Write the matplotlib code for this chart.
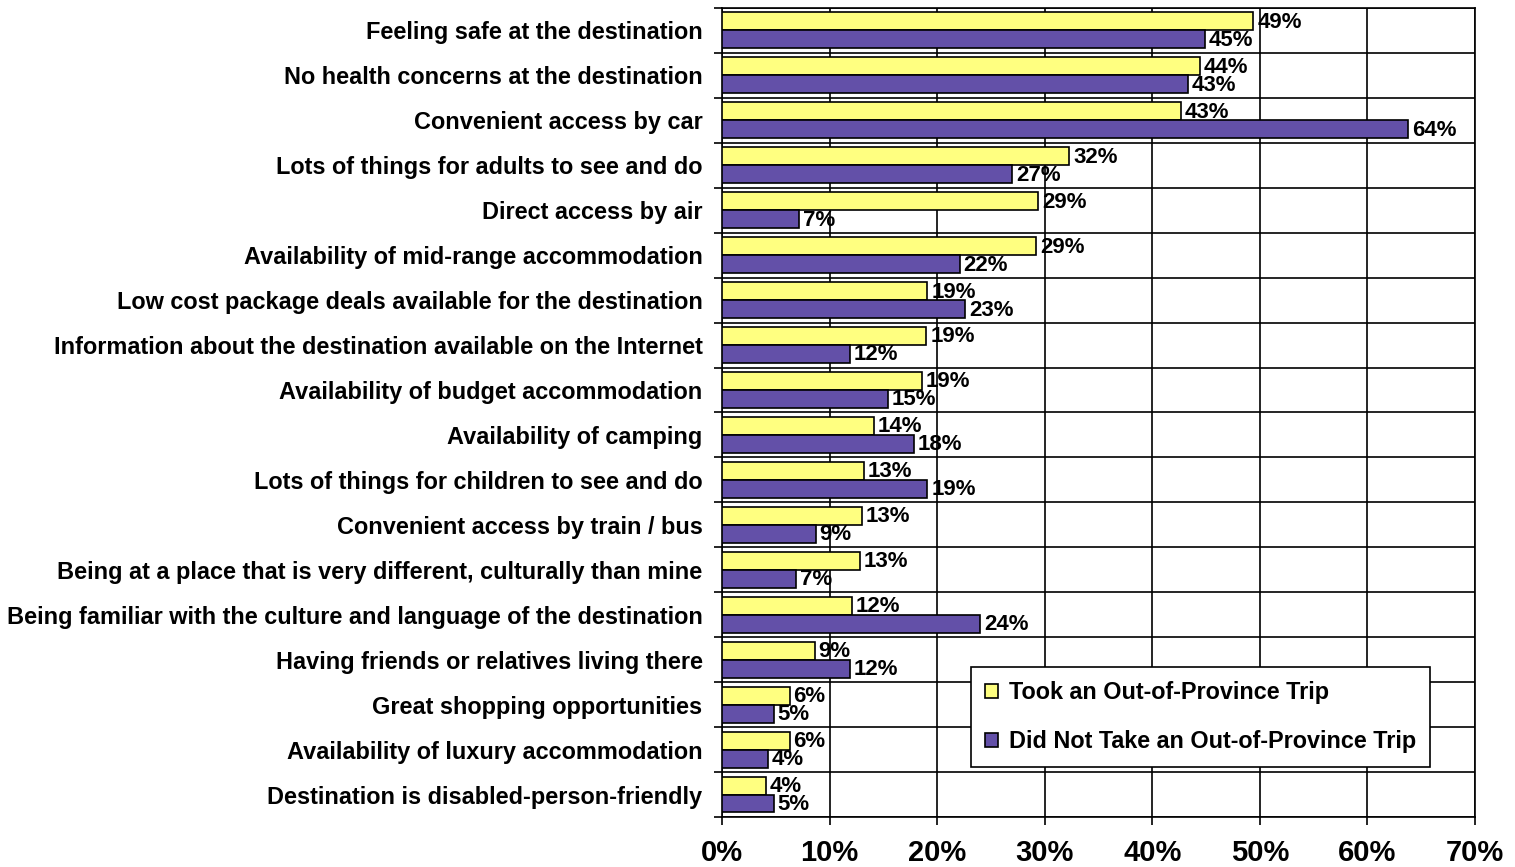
import matplotlib.pyplot as plt
import numpy as np
from matplotlib.ticker import FixedLocator, FuncFormatter

plt.rcParams['font.family'] = ['Liberation Sans', 'DejaVu Sans']
plt.rcParams['font.weight'] = 'bold'

categories = [
    "Feeling safe at the destination",
    "No health concerns at the destination",
    "Convenient access by car",
    "Lots of things for adults to see and do",
    "Direct access by air",
    "Availability of mid-range accommodation",
    "Low cost package deals available for the destination",
    "Information about the destination available on the Internet",
    "Availability of budget accommodation",
    "Availability of camping",
    "Lots of things for children to see and do",
    "Convenient access by train / bus",
    "Being at a place that is very different, culturally than mine",
    "Being familiar with the culture and language of the destination",
    "Having friends or relatives living there",
    "Great shopping opportunities",
    "Availability of luxury accommodation",
    "Destination is disabled-person-friendly",
]
took_trip = [49.4, 44.4, 42.7, 32.3, 29.4, 29.2, 19.1, 19.0, 18.6, 14.1,
             13.2, 13.0, 12.8, 12.1, 8.6, 6.3, 6.3, 4.1]
no_trip = [44.9, 43.3, 63.8, 27.0, 7.2, 22.1, 22.6, 11.9, 15.4, 17.8,
           19.1, 8.7, 6.9, 24.0, 11.9, 4.8, 4.3, 4.8]
series_names = ["Took an Out-of-Province Trip", "Did Not Take an Out-of-Province Trip"]

yellow = '#FFFF80'
purple = '#6350A8'

fig = plt.figure(figsize=(15.15, 8.67), dpi=100)
ax = fig.add_axes([0.4766, 0.0577, 0.4970, 0.9331])

n = len(categories)
y = np.arange(n)
h = 0.4

ax.barh(y - h / 2, took_trip, height=h, color=yellow, edgecolor='black',
        linewidth=1.2, label=series_names[0], zorder=3)
ax.barh(y + h / 2, no_trip, height=h, color=purple, edgecolor='black',
        linewidth=1.2, label=series_names[1], zorder=3)

# value labels, Excel style (they overlap a bit)
for i in range(n):
    ax.text(took_trip[i] + 0.35, y[i] - h / 2 + 0.02, f"{round(took_trip[i])}%",
            ha='left', va='center', fontsize=16, fontweight='bold', zorder=4)
    ax.text(no_trip[i] + 0.35, y[i] + h / 2 + 0.02, f"{round(no_trip[i])}%",
            ha='left', va='center', fontsize=16, fontweight='bold', zorder=4)

ax.set_xlim(0, 70)
ax.set_ylim(n - 0.5, -0.5)

ax.set_xticks(np.arange(0, 71, 10))
ax.xaxis.set_major_formatter(FuncFormatter(lambda v, p: f"{int(v)}%"))
ax.tick_params(axis='x', labelsize=21, length=6, width=1.2, pad=10)
ax.grid(axis='x', color='black', linewidth=1.2, zorder=1)

ax.set_yticks(y)
ax.set_yticklabels(categories, fontsize=16.9, fontweight='bold')
ax.tick_params(axis='y', which='major', length=0, pad=14)
ax.yaxis.set_minor_locator(FixedLocator(np.arange(-0.5, n, 1)))
ax.tick_params(axis='y', which='minor', length=6, width=1.2)
ax.grid(axis='y', which='minor', color='black', linewidth=1.2, zorder=1)

for lab in ax.get_xticklabels():
    lab.set_fontweight('bold')

for s in ax.spines.values():
    s.set_linewidth(1.2)
    s.set_color('black')

leg = ax.legend(loc='lower right', bbox_to_anchor=(0.94, 0.062), fontsize=16.8,
                frameon=True, fancybox=False, edgecolor='black', framealpha=1,
                handlelength=0.55, handleheight=0.55, handletextpad=0.45,
                labelspacing=1.1, borderpad=0.6, borderaxespad=0)
leg.get_frame().set_linewidth(1.2)
for t in leg.get_texts():
    t.set_fontweight('bold')

fig.savefig('out.png', dpi=100)
